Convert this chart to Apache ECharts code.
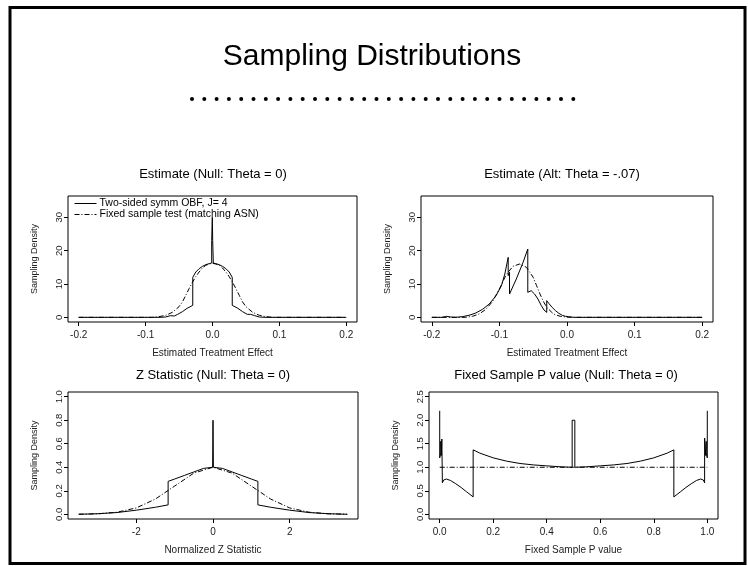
<!DOCTYPE html>
<html><head><meta charset="utf-8">
<script src="https://cdn.jsdelivr.net/npm/echarts@6/dist/echarts.min.js"></script>
<style>html,body{margin:0;padding:0;background:#fff}#c{width:748px;height:566px}</style>
</head><body><div id="c"></div><script>
// ---- Panel 1: Estimate (Null: Theta = 0)
const p1ObfX = [-0.2,-0.08,-0.07,-0.063,-0.057,-0.057,-0.052,-0.045,-0.038,-0.0295,-0.0295,-0.025,-0.02,-0.015,-0.01,-0.005,-0.0012,-0.0012,-0.0003,-0.0003,0.0003,0.0003,0.0012,0.0012,0.005,0.01,0.015,0.02,0.025,0.0295,0.0295,0.038,0.045,0.052,0.057,0.057,0.063,0.07,0.08,0.2];
const p1ObfY = [0,0,0.1,0.5,0.4,0.9,0.9,1.7,2.7,3.6,12,13.6,14.6,15.3,15.8,16.1,16.3,23,23,30,30,23,23,16.3,16.1,15.8,15.3,14.6,13.6,12,3.6,2.7,1.7,0.9,0.9,0.4,0.5,0.1,0,0];
const p1FixX = [-0.2,-0.09,-0.08,-0.07,-0.06,-0.05,-0.045,-0.04,-0.035,-0.03,-0.025,-0.02,-0.015,-0.01,-0.005,0,0.005,0.01,0.015,0.02,0.025,0.03,0.035,0.04,0.045,0.05,0.06,0.07,0.08,0.09,0.2];
const p1FixY = [0,0,0.2,0.6,1.5,3.2,4.6,6.6,8.6,10.5,12.2,13.6,14.8,15.6,16.0,16.2,16.0,15.6,14.8,13.6,12.2,10.5,8.6,6.6,4.6,3.2,1.5,0.6,0.2,0,0];
// ---- Panel 2: Estimate (Alt: Theta = -.07)
const p2ObfX = [-0.2,-0.185,-0.178,-0.172,-0.165,-0.155,-0.145,-0.135,-0.125,-0.115,-0.105,-0.097,-0.092,-0.087,-0.087,-0.085,-0.085,-0.075,-0.065,-0.058,-0.058,-0.053,-0.048,-0.043,-0.038,-0.034,-0.03,-0.03,-0.027,-0.022,-0.017,-0.012,-0.007,-0.002,0,0.002,0.01,0.02,0.2];
const p2ObfY = [0,0,0.3,0.1,0,0.2,0.6,1.3,2.4,4,6.5,9.5,13,18,12.5,13.5,7,11.5,16.5,20.5,7.5,8,7,5.5,3.5,2.2,1.5,5,4.2,3,2,1.2,0.6,0.3,0.8,0.2,0,0,0];
const p2FixX = [-0.2,-0.15,-0.14,-0.13,-0.12,-0.11,-0.1,-0.09,-0.08,-0.07,-0.06,-0.05,-0.045,-0.04,-0.035,-0.03,-0.02,-0.01,0,0.01,0.2];
const p2FixY = [0,0,0.3,1,2.4,4.8,8.5,12.8,15.3,16,15,12,9.5,7,4.8,3,1,0.3,0.05,0,0];
// ---- Panel 3: Z Statistic (Null: Theta = 0)
const p3ObfX = [-3.5,-3,-2.5,-2,-1.5,-1.17,-1.17,-1,-0.75,-0.5,-0.25,-0.01,0,0.01,0.25,0.5,0.75,1,1.17,1.17,1.5,2,2.5,3,3.5];
const p3ObfY = [0,0.005,0.015,0.035,0.06,0.08,0.28,0.3,0.33,0.36,0.39,0.4,0.8,0.4,0.39,0.36,0.33,0.3,0.28,0.08,0.06,0.035,0.015,0.005,0];
const p3FixX = [-3.5,-3,-2.5,-2,-1.5,-1,-0.5,0,0.5,1,1.5,2,2.5,3,3.5];
const p3FixY = [0.001,0.004,0.018,0.054,0.13,0.24,0.35,0.4,0.35,0.24,0.13,0.054,0.018,0.004,0.001];
// ---- Panel 4: Fixed Sample P value (Null: Theta = 0)
const p4ObfX = [0,0,0.004,0.004,0.006,0.008,0.01,0.01,0.015,0.025,0.04,0.06,0.08,0.1,0.125,0.125,0.15,0.2,0.25,0.3,0.35,0.4,0.45,0.495,0.495,0.505,0.505,0.55,0.6,0.65,0.7,0.75,0.8,0.85,0.875,0.875,0.9,0.92,0.94,0.96,0.975,0.985,0.99,0.99,0.992,0.994,0.996,0.996,1,1];
const p4ObfY = [2.2,1.2,1.3,1.55,1.25,1.6,1.62,0.67,0.73,0.75,0.72,0.65,0.57,0.48,0.37,1.37,1.3,1.2,1.13,1.08,1.05,1.03,1.01,1.0,2.0,2.0,1.0,1.01,1.03,1.05,1.08,1.13,1.2,1.3,1.37,0.37,0.48,0.57,0.65,0.72,0.75,0.73,0.67,1.62,1.6,1.25,1.55,1.3,1.2,2.2];
const p4FixX = [0,0.25,0.5,0.75,1];
const p4FixY = [1,1,1,1,1];
// ---- Tick values
const p1Ticks = [-0.2,-0.1,0,0.1,0.2];
const p1YTicks = [0,10,20,30];
const p3Ticks = [-2,0,2];
const p3YTicks = [0,0.2,0.4,0.6,0.8,1.0];
const p4Ticks = [0,0.2,0.4,0.6,0.8,1.0];
const p4YTicks = [0,0.5,1.0,1.5,2.0,2.5];
const legendNames = ['Two-sided symm OBF, J= 4','Fixed sample test (matching ASN)'];
const panelTitles = ['Estimate (Null: Theta = 0)','Estimate (Alt: Theta = -.07)','Z Statistic (Null: Theta = 0)','Fixed Sample P value (Null: Theta = 0)'];
const xNames = ['Estimated Treatment Effect','Estimated Treatment Effect','Normalized Z Statistic','Fixed Sample P value'];

const zip = (a,b)=>a.map((v,i)=>[v,b[i]]);
const FONT = 'Liberation Sans, Arial, sans-serif';
const NARROW = 'Liberation Sans Narrow, Liberation Sans, Arial, sans-serif';
const grids = [
  {left:68, top:196, width:289, height:126},
  {left:421, top:196, width:292, height:126},
  {left:68, top:392, width:290, height:127},
  {left:429, top:392, width:289, height:127}
];
const xr = [[-0.216,0.216],[-0.216,0.216],[-3.78,3.78],[-0.04,1.04]];
const yr = [[-1.4,36.4],[-1.4,36.4],[-0.04,1.04],[-0.1,2.6]];
const xt = [p1Ticks,p1Ticks,p3Ticks,p4Ticks];
const yt = [p1YTicks,p1YTicks,p3YTicks,p4YTicks];
const xfmt = [v=>v.toFixed(1),v=>v.toFixed(1),v=>String(v),v=>v.toFixed(1)];
const yfmt = [v=>String(v),v=>String(v),v=>v.toFixed(1),v=>v.toFixed(1)];

const xAxis = [], yAxis = [];
for (let i=0;i<4;i++){
  xAxis.push({type:'value', gridIndex:i, min:xr[i][0], max:xr[i][1], position:'bottom',
    name:xNames[i], nameLocation:'middle', nameGap:26,
    nameTextStyle:{fontFamily:FONT, fontSize:10, color:'#222'},
    splitLine:{show:false}, axisLine:{show:false, onZero:false},
    axisTick:{show:true, length:4, customValues:xt[i], lineStyle:{color:'#000'}},
    axisLabel:{customValues:xt[i], formatter:xfmt[i], fontFamily:FONT, fontSize:10, color:'#222', margin:8}
  });
  yAxis.push({type:'value', gridIndex:i, min:yr[i][0], max:yr[i][1], position:'left',
    name:'Sampling Density', nameLocation:'middle', nameGap:29, nameRotate:90,
    nameTextStyle:{fontFamily:NARROW, fontSize:9, color:'#222'},
    splitLine:{show:false}, axisLine:{show:false, onZero:false},
    axisTick:{show:true, length:4, customValues:yt[i], lineStyle:{color:'#000'}},
    axisLabel:{customValues:yt[i], formatter:yfmt[i], rotate:90, fontFamily:NARROW, fontSize:9.5, color:'#222', margin:4}
  });
}
const solidStyle = {color:'#000', width:1, type:'solid'};
const dashStyle = {color:'#000', width:1, type:[5,2,1,2]};
const data = [[p1ObfX,p1ObfY,p1FixX,p1FixY],[p2ObfX,p2ObfY,p2FixX,p2FixY],[p3ObfX,p3ObfY,p3FixX,p3FixY],[p4ObfX,p4ObfY,p4FixX,p4FixY]];
const series = [];
data.forEach((d,i)=>{
  series.push({name:legendNames[0], type:'line', xAxisIndex:i, yAxisIndex:i, data:zip(d[0],d[1]), showSymbol:false, symbol:'none', lineStyle:solidStyle, itemStyle:{color:'#000'}, z:3});
  series.push({name:legendNames[1], type:'line', xAxisIndex:i, yAxisIndex:i, data:zip(d[2],d[3]), showSymbol:false, symbol:'none', lineStyle:dashStyle, itemStyle:{color:'#000'}, z:2});
});
const titleCenters = [[213,174],[562,174],[213,375],[566,375]];
const graphic = [
  {type:'rect', shape:{x:10, y:7.5, width:735, height:556}, style:{fill:'none', stroke:'#000', lineWidth:3}},
  {type:'text', x:372, y:57, style:{text:'Sampling Distributions', font:'30px Liberation Sans, Arial, sans-serif', fill:'#000', textAlign:'center', textVerticalAlign:'middle'}}
];
for (let k=0;k<32;k++){
  graphic.push({type:'circle', shape:{cx:192+k*12.3, cy:99, r:2}, style:{fill:'#000'}});
}
panelTitles.forEach((t,i)=>{
  graphic.push({type:'text', x:titleCenters[i][0], y:titleCenters[i][1], style:{text:t, font:'13px Liberation Sans, Arial, sans-serif', fill:'#000', textAlign:'center', textVerticalAlign:'middle'}});
});
const chart = echarts.init(document.getElementById('c'), null, {renderer:'canvas'});
chart.setOption({
  animation:false,
  backgroundColor:'#fff',
  grid: grids.map(g=>Object.assign({show:true, borderColor:'#000', borderWidth:1, backgroundColor:'transparent', containLabel:false}, g)),
  xAxis, yAxis, series,
  legend:{data:legendNames, left:74, top:198, orient:'vertical', itemGap:0, itemWidth:22, itemHeight:9,
    itemStyle:{opacity:0}, lineStyle:{width:1},
    textStyle:{fontFamily:FONT, fontSize:10.5, lineHeight:9, color:'#000', padding:[0,0,0,-2]}, padding:0},
  graphic
});
</script></body></html>
